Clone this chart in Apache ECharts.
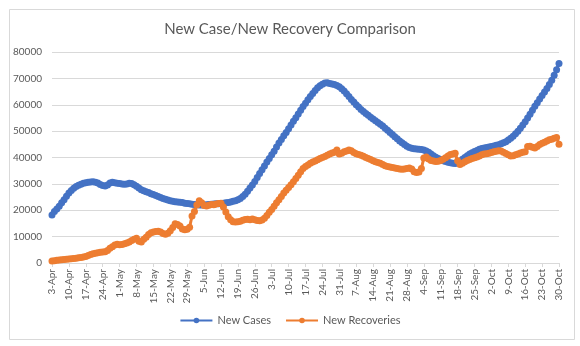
<!DOCTYPE html>
<html>
<head>
<meta charset="utf-8">
<script src="https://cdn.jsdelivr.net/npm/echarts@6/dist/echarts.min.js"></script>
<style>
  html, body { margin: 0; padding: 0; background: #ffffff; }
  #chart { width: 580px; height: 346px; }
</style>
</head>
<body>
<div id="chart"></div>
<script>
// Daily series, 3-Apr through 30-Oct (211 days), one row per week
const newCases = [
  18200, 19500, 20500, 21500, 22800, 24000, 25300,
  26500, 27500, 28300, 29000, 29500, 29900, 30200,
  30400, 30600, 30700, 30800, 30600, 30300, 29800,
  29400, 29200, 29600, 30300, 30600, 30400, 30200,
  30100, 30000, 29900, 30000, 30200, 30100, 29700,
  29100, 28400, 27800, 27400, 27000, 26700, 26300,
  26000, 25600, 25200, 24800, 24500, 24200, 23900,
  23600, 23400, 23200, 23100, 23000, 22900, 22700,
  22600, 22500, 22300, 22200, 22100, 22000, 22000,
  22000, 22100, 22200, 22300, 22400, 22500, 22500,
  22600, 22700, 22800, 22900, 23100, 23400, 23600,
  24000, 24500, 25200, 26100, 27200, 28400, 29600,
  30900, 32400, 33900, 35400, 36800, 38300, 39600,
  41000, 42400, 44000, 45500, 46800, 48200, 49500,
  50900, 52300, 53700, 55100, 56500, 57900, 59300,
  60600, 61900, 63100, 64300, 65400, 66400, 67200,
  67800, 68200, 68300, 68100, 67900, 67700, 67300,
  66800, 66100, 65200, 64200, 63100, 62000, 61000,
  60000, 59100, 58200, 57400, 56700, 56000, 55300,
  54600, 53900, 53300, 52600, 51900, 51100, 50300,
  49500, 48700, 47900, 47100, 46300, 45600, 44900,
  44300, 43800, 43500, 43300, 43200, 43100, 43000,
  42800, 42500, 42000, 41300, 40700, 40100, 39600,
  39200, 38800, 38500, 38200, 38000, 37800, 37700,
  37900, 38500, 39300, 40000, 40700, 41300, 41800,
  42300, 42700, 43100, 43400, 43600, 43800, 44000,
  44200, 44400, 44600, 44800, 45200, 45600, 46000,
  46600, 47300, 48100, 49000, 50000, 51100, 52300,
  53600, 55000, 56400, 57900, 59400, 60800, 62200,
  63500, 64800, 66200, 67700, 69300, 71200, 73300,
  75600
];

const newRecoveries = [
  800, 900, 1000, 1100, 1200, 1300, 1400,
  1500, 1600, 1700, 1800, 2000, 2100, 2300,
  2500, 2800, 3200, 3500, 3700, 3900, 4100,
  4200, 4300, 4700, 5600, 6200, 6800, 7100,
  6900, 7000, 7300, 7600, 8000, 8500, 9000,
  9400, 8200, 8000, 9000, 9800, 10800, 11500,
  11800, 11900, 12000, 11800, 11200, 10900, 11300,
  12200, 13500, 14900, 14600, 14000, 12900, 12600,
  12800, 13600, 17800, 19500, 22000, 23600, 22800,
  21800, 21600, 21900, 22200, 22100, 22400, 22600,
  22700, 21200, 19300, 17500, 16400, 15600, 15500,
  15600, 15800, 16200, 16500, 16600, 16400, 16700,
  16400, 16100, 16000, 16300, 17000, 18000, 19200,
  20300, 21500, 22800, 24000, 25200, 26500, 27600,
  28600, 29700, 30800, 32000, 33300, 34600, 35800,
  36600, 37200, 37800, 38300, 38700, 39100, 39600,
  40000, 40400, 40900, 41300, 41700, 42000, 42800,
  41300, 41600, 42200, 42500, 42800, 42600, 41900,
  41400, 41100, 40900, 40500, 40000, 39600, 39200,
  38800, 38400, 38100, 37800, 37300, 36900, 36600,
  36400, 36200, 36000, 35800, 35600, 35500, 35600,
  35800, 36000, 35600, 34600, 34300, 34500, 35800,
  39800, 40200, 39400, 38900, 38700, 38500, 38600,
  38900, 39300, 39900, 40600, 41100, 41300, 41600,
  38800, 37300, 37800, 38400, 38900, 39200, 39600,
  39900, 40200, 40600, 41000, 41300, 41400, 41600,
  41900, 42200, 42400, 42600, 42500, 42000, 41500,
  41000, 40600, 40700, 41000, 41300, 41700, 42000,
  42200, 44200, 44300, 43900, 43600, 44200, 44900,
  45400, 45800, 46300, 46700, 46900, 47300, 47600,
  45000
];

const yTicks = { min: 0, max: 80000, step: 10000 };
const monthNames = ['Jan','Feb','Mar','Apr','May','Jun','Jul','Aug','Sep','Oct','Nov','Dec'];

// Day labels "D-Mon" starting 3-Apr
const dates = [];
for (let i = 0; i < newCases.length; i++) {
  const d = new Date(2020, 3, 3 + i);
  dates.push(d.getDate() + '-' + monthNames[d.getMonth()]);
}

const FONT = 'Lato, "Open Sans", sans-serif';
const TEXT = '#595959';
const GRID = '#d9d9d9';
const BLUE = '#4472C4';
const ORANGE = '#ED7D31';

const chart = echarts.init(document.getElementById('chart'), null, { renderer: 'canvas' });
chart.setOption({
  animation: false,
  backgroundColor: '#ffffff',
  textStyle: { fontFamily: FONT },
  graphic: [{
    type: 'rect',
    left: 7, top: 7,
    shape: { width: 565, height: 330 },
    style: { fill: 'none', stroke: GRID, lineWidth: 1 },
    silent: true, z: -1
  }],
  title: {
    text: 'New Case/New Recovery Comparison',
    left: 'center',
    top: 17,
    textStyle: { fontFamily: FONT, fontSize: 15, fontWeight: 'normal', color: TEXT }
  },
  legend: {
    bottom: 15,
    left: 'center',
    itemWidth: 32,
    itemHeight: 7,
    itemGap: 14,
    textStyle: { fontFamily: FONT, fontSize: 11, color: TEXT },
    data: ['New Cases', 'New Recoveries']
  },
  grid: { left: 52, right: 21, top: 52, bottom: 83, containLabel: false },
  xAxis: {
    type: 'category',
    data: dates,
    boundaryGap: false,
    axisLine: { lineStyle: { color: GRID } },
    axisTick: { show: true, interval: 6, length: 4, lineStyle: { color: GRID } },
    axisLabel: { interval: 6, rotate: 90, fontSize: 10, color: TEXT, fontFamily: FONT, margin: 6 },
    splitLine: { show: false }
  },
  yAxis: {
    type: 'value',
    min: yTicks.min, max: yTicks.max, interval: yTicks.step,
    axisLine: { show: false },
    axisTick: { show: false },
    axisLabel: { fontSize: 10, color: TEXT, fontFamily: FONT, margin: 10, formatter: v => String(v) },
    splitLine: { lineStyle: { color: GRID, width: 1 } }
  },
  series: [
    {
      name: 'New Cases', type: 'line', data: newCases,
      symbol: 'circle', symbolSize: 7, showAllSymbol: true,
      lineStyle: { color: BLUE, width: 3 },
      itemStyle: { color: BLUE }
    },
    {
      name: 'New Recoveries', type: 'line', data: newRecoveries,
      symbol: 'circle', symbolSize: 7, showAllSymbol: true,
      lineStyle: { color: ORANGE, width: 3 },
      itemStyle: { color: ORANGE }
    }
  ]
});
</script>
</body>
</html>
